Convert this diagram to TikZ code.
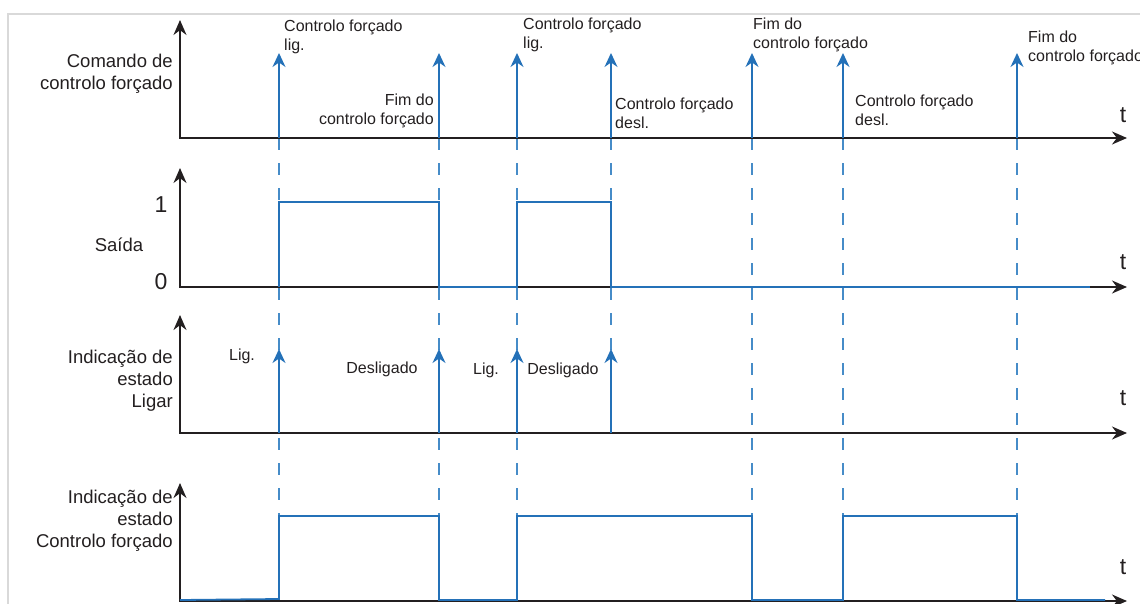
\documentclass[tikz,border=0pt]{standalone}
\usepackage{fontspec}
\setmainfont{Liberation Sans}
\usetikzlibrary{arrows.meta}
\definecolor{sigblue}{RGB}{36,113,184}
\definecolor{dashblue}{RGB}{70,140,200}
\definecolor{axisk}{RGB}{35,31,32}
\definecolor{framegray}{RGB}{217,217,217}
\begin{document}
\begin{tikzpicture}[x=1pt,y=-1pt,
  axis/.style={draw=axisk, line width=1.8pt, {Stealth[length=15pt,width=13pt]}-{Stealth[length=15pt,width=13pt]}},
  sig/.style={draw=sigblue, line width=1.8pt},
  evarrow/.style={draw=sigblue, line width=1.8pt, -{Stealth[length=14pt,width=13pt]}},
  guide/.style={draw=dashblue, line width=1.4pt, dash pattern=on 12pt off 13pt},
  sidelbl/.style={text=axisk, font=\fontsize{18.5}{22}\selectfont, inner sep=0pt},
  evlbl/.style={text=axisk, font=\fontsize{16}{19}\selectfont, inner sep=0pt},
  biglbl/.style={text=axisk, font=\fontsize{23}{26}\selectfont, inner sep=0pt}
]
\useasboundingbox (0,0) rectangle (1140,603);
\draw[framegray, line width=2.5pt] (8,604) -- (8,14) -- (1140,14);

% event coordinates
\foreach \n/\x in {a/279,b/439,c/517,d/611,e/752,f/843,g/1017}{
  \coordinate (top\n) at (\x,53);
  \coordinate (base\n) at (\x,138);
  \coordinate (low\n) at (\x,516);
  \coordinate (mid\n) at (\x,349);
  \coordinate (bot\n) at (\x,433);
}

% dashed guide lines
\foreach \n in {a,b,c,e,f,g}{ \draw[guide] (base\n) -- (low\n); }
\draw[guide] (based) -- (botd);

% axes
\coordinate (y1) at (180,20);  \coordinate (o1) at (180,138); \coordinate (x1) at (1127,138);
\coordinate (y2) at (180,168); \coordinate (o2) at (180,287); \coordinate (x2) at (1127,287);
\coordinate (y3) at (180,315); \coordinate (o3) at (180,433); \coordinate (x3) at (1127,433);
\coordinate (y4) at (180,483); \coordinate (o4) at (180,601); \coordinate (x4) at (1127,601);
\draw[axis] (y1) -- (o1) -- (x1);
\draw[axis] (y2) -- (o2) -- (x2);
\draw[axis] (y3) -- (o3) -- (x3);
\draw[axis] (y4) -- (o4) -- (x4);

% panel 1 arrows
\foreach \n in {a,b,c,d,e,f,g}{ \draw[evarrow] (base\n) -- (top\n); }

% panel 2 signal
\draw[sig] (279,287) -- (279,202) -- (439,202) -- (439,287) -- (517,287) -- (517,202) -- (611,202) -- (611,287) -- (1090,287);

% panel 3 arrows
\foreach \n in {a,b,c,d}{ \draw[evarrow] (bot\n) -- (mid\n); }

% panel 4 signal
\draw[sig] (180,600) -- (279,599) -- (279,516) -- (439,516) -- (439,600) -- (517,600) -- (517,516) -- (752,516) -- (752,600) -- (843,600) -- (843,516) -- (1017,516) -- (1017,600) -- (1105,600);

% side labels
\node[sidelbl, anchor=east, align=right] (lab1) at (173,74) {Comando de\\controlo forçado};
\node[sidelbl] (lab2) at (119,245) {Saída};
\node[biglbl] (one) at (161,205) {1};
\node[biglbl] (zero) at (161,282) {0};
\node[sidelbl, anchor=east, align=right] (lab3) at (173,381) {Indicação de\\estado\\Ligar};
\node[sidelbl, anchor=east, align=right] (lab4) at (173,521) {Indicação de\\estado\\Controlo forçado};

% t labels
\node[biglbl] (t1) at (1123,115) {t};
\node[biglbl] (t2) at (1123,262) {t};
\node[biglbl] (t3) at (1123,398) {t};
\node[biglbl] (t4) at (1123,567) {t};

% event labels panel 1
\node[evlbl, anchor=west, align=left] (ev1) at (284,37) {Controlo forçado\\lig.};
\node[evlbl, anchor=east, align=right] (ev2) at (434,111) {Fim do\\controlo forçado};
\node[evlbl, anchor=west, align=left] (ev3) at (523,35) {Controlo forçado\\lig.};
\node[evlbl, anchor=west, align=left] (ev4) at (615,113) {Controlo forçado\\desl.};
\node[evlbl, anchor=west, align=left] (ev5) at (753,35) {Fim do\\controlo forçado};
\node[evlbl, anchor=west, align=left] (ev6) at (855,110) {Controlo forçado\\desl.};
\node[evlbl, anchor=west, align=left] (ev7) at (1028,48) {Fim do\\controlo forçado};

% event labels panel 3
\node[evlbl] (s1) at (242,356) {Lig.};
\node[evlbl] (s2) at (382,369) {Desligado};
\node[evlbl] (s3) at (486,370) {Lig.};
\node[evlbl] (s4) at (563,370) {Desligado};
\end{tikzpicture}
\end{document}
